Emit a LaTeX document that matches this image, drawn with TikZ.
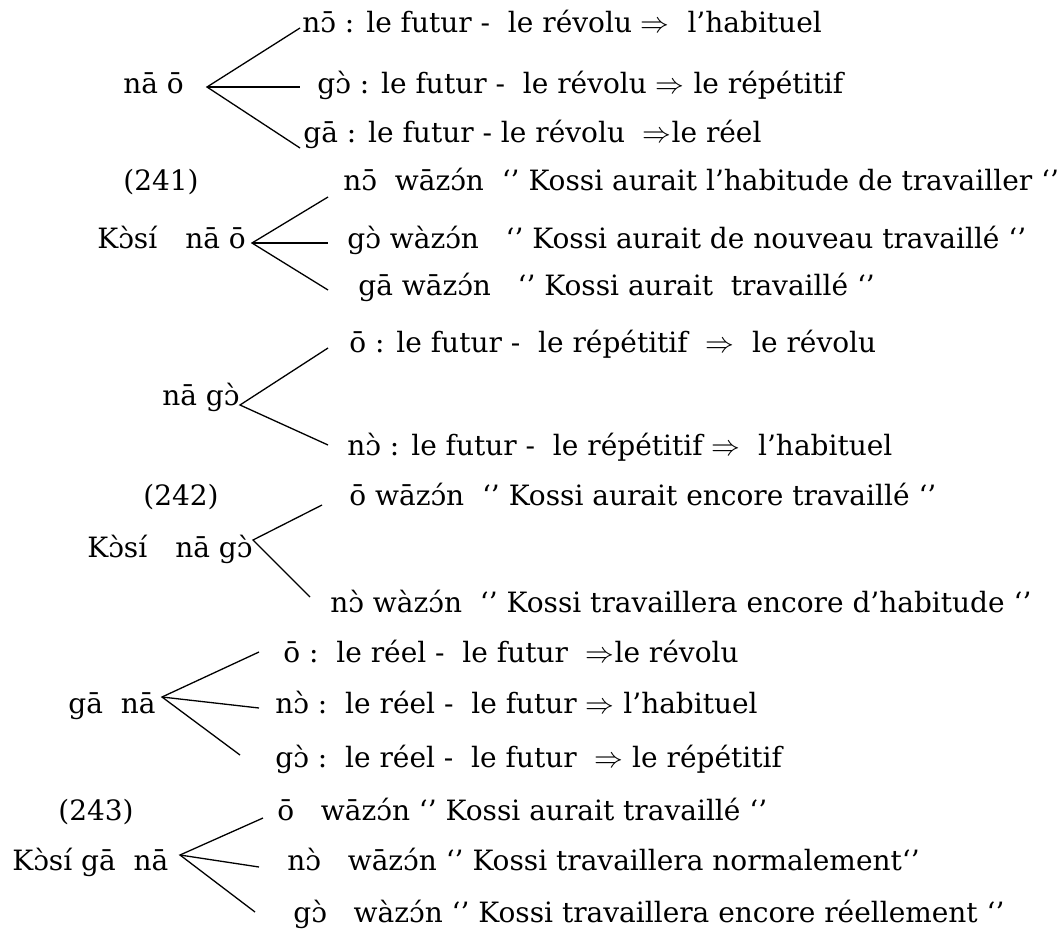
\documentclass[tikz,border=0pt]{standalone}
\usepackage{fontspec}
\setmainfont{DejaVu Serif}
\newcommand{\impl}{$\Rightarrow$}
\usepackage{tikz}

\begin{document}
\begin{tikzpicture}[x=0.5pt,y=-0.5pt,
  every node/.style={font=\fontsize{14pt}{16pt}\selectfont},
  txt/.style={anchor=mid west,inner sep=0pt},
  branche/.style={line width=0.65pt}]

\useasboundingbox (0,0) rectangle (1059,931);

% nā ō
\node[txt] (g1) at (123,88) {nā ō};
\node[txt] (d11) at (302,27) {nɔ̄ : le futur -\ \ le révolu \impl\ \ l’habituel};
\node[txt] (d12) at (317,88) {gɔ̀ : le futur -\ \ le révolu \impl\ le répétitif};
\node[txt] (d13) at (303,137) {gā : le futur - le révolu\ \ \impl le réel};
\coordinate (f1) at (207,87);
\coordinate (b11) at (300,28);
\coordinate (b12) at (300,87);
\coordinate (b13) at (300,148);
\draw[branche] (b11)--(f1)--(b13);
\draw[branche] (f1)--(b12);

% (241)
\node[txt] (n241) at (123,185) {(241)};
\node[txt] (g2) at (97,243) {Kɔ̀sí\quad nā ō};
\node[txt] (d21) at (343,185) {nɔ̄\ \ wāzɔ́n\ \ ‘’ Kossi aurait l’habitude de travailler ‘’};
\node[txt] (d22) at (347,243) {gɔ̀ wàzɔ́n\ \ \ ‘’ Kossi aurait de nouveau travaillé ‘’};
\node[txt] (d23) at (358,290) {gā wāzɔ́n\ \ \ ‘’ Kossi aurait\ \ travaillé ‘’};
\coordinate (f2) at (252,243);
\coordinate (b21) at (328,197);
\coordinate (b22) at (328,243);
\coordinate (b23) at (328,290);
\draw[branche] (b21)--(f2)--(b23);
\draw[branche] (f2)--(b22);

% nā gɔ̀
\node[txt] (g3) at (162,400) {nā gɔ̀};
\node[txt] (d31) at (349,347) {ō : le futur -\ \ le répétitif\ \ \impl\ \ le révolu};
\node[txt] (d32) at (347,450) {nɔ̀ : le futur -\ \ le répétitif \impl\ \ l’habituel};
\coordinate (f3) at (240,405);
\coordinate (b31) at (328,348);
\coordinate (b32) at (328,445);
\draw[branche] (b31)--(f3)--(b32);

% (242)
\node[txt] (n242) at (143,500) {(242)};
\node[txt] (g4) at (87,552) {Kɔ̀sí\quad nā gɔ̀};
\node[txt] (d41) at (349,500) {ō wāzɔ́n\ \ ‘’ Kossi aurait encore travaillé ‘’};
\node[txt] (d42) at (330,607) {nɔ̀ wàzɔ́n\ \ ‘’ Kossi travaillera encore d’habitude ‘’};
\coordinate (f4) at (253,540);
\coordinate (b41) at (322,505);
\coordinate (b42) at (310,597);
\draw[branche] (b41)--(f4)--(b42);

% gā nā
\node[txt] (g5) at (68,708) {gā~~nā};
\node[txt] (d51) at (283,657) {ō :\ \ le réel -\ \ le futur\ \ \impl le révolu};
\node[txt] (d52) at (275,708) {nɔ̀ :\ \ le réel -\ \ le futur \impl\ l’habituel};
\node[txt] (d53) at (275,762) {gɔ̀ :\ \ le réel -\ \ le futur\ \ \impl\ le répétitif};
\coordinate (f5) at (162,697);
\coordinate (b51) at (259,652);
\coordinate (b52) at (259,708);
\coordinate (b53) at (240,755);
\draw[branche] (b51)--(f5)--(b53);
\draw[branche] (f5)--(b52);

% (243)
\node[txt] (n243) at (58,815) {(243)};
\node[txt] (g6) at (12,865) {Kɔ̀sí gā~~nā};
\node[txt] (d61) at (277,815) {ō\ \ \ wāzɔ́n ‘’ Kossi aurait travaillé ‘’};
\node[txt] (d62) at (287,865) {nɔ̀\ \ \ wāzɔ́n ‘’ Kossi travaillera normalement‘’};
\node[txt] (d63) at (293,917) {gɔ̀\ \ \ wàzɔ́n ‘’ Kossi travaillera encore réellement ‘’};
\coordinate (f6) at (180,855);
\coordinate (b61) at (263,818);
\coordinate (b62) at (259,867);
\coordinate (b63) at (255,912);
\draw[branche] (b61)--(f6)--(b63);
\draw[branche] (f6)--(b62);

\end{tikzpicture}
\end{document}
